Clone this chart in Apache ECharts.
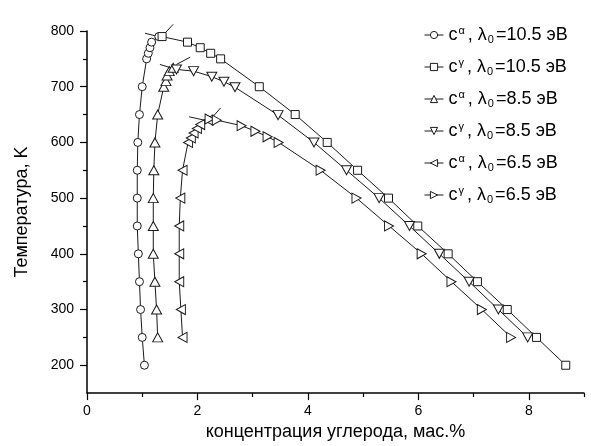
<!DOCTYPE html>
<html><head><meta charset="utf-8">
<script src="https://cdn.jsdelivr.net/npm/echarts@6/dist/echarts.min.js"></script>
<style>html,body{margin:0;padding:0;background:#fff}#c{width:591px;height:446px}</style>
</head><body><div id="c"></div>
<script>
// ---- data ----
const xTickLabels = [0, 2, 4, 6, 8];
const xMinorTicks = [1, 3, 5, 7, 9];
const yTickLabels = [200, 300, 400, 500, 600, 700, 800];
const yMinorTicks = [250, 350, 450, 550, 650, 750];

const seriesKeys = ['a105', 'g105', 'a85', 'g85', 'a65', 'g65'];
const legendTexts = [
  'c{sup|α}, λ{sub|0}=10.5 эВ',
  'c{sup|γ}, λ{sub|0}=10.5 эВ',
  'c{sup|α}, λ{sub|0}=8.5 эВ',
  'c{sup|γ}, λ{sub|0}=8.5 эВ',
  'c{sup|α}, λ{sub|0}=6.5 эВ',
  'c{sup|γ}, λ{sub|0}=6.5 эВ'
];

const alpha105 = [[1.04,200],[1.00,250],[0.97,300],[0.95,350],[0.93,400],[0.91,450],[0.91,500],[0.91,550],[0.92,600],[0.95,650],[1.00,700],[1.08,750],[1.11,760],[1.14,770],[1.17,780],[1.30,790]];
const gamma105 = [[1.36,790],[1.82,780],[2.05,770],[2.24,760],[2.42,750],[3.12,700],[3.77,650],[4.35,600],[4.90,550],[5.46,500],[5.99,450],[6.54,400],[7.07,350],[7.61,300],[8.14,250],[8.67,200]];
const alpha85 = [[1.28,250],[1.26,300],[1.23,350],[1.20,400],[1.20,450],[1.20,500],[1.21,550],[1.23,600],[1.28,650],[1.39,700],[1.43,710],[1.45,720],[1.49,728],[1.56,734]];
const gamma85 = [[1.62,731],[1.93,728],[2.26,718],[2.48,709],[2.68,699],[3.46,649],[4.11,600],[4.70,550],[5.29,500],[5.84,450],[6.38,400],[6.92,350],[7.45,300],[7.98,250]];
const alpha65 = [[1.73,250],[1.70,300],[1.67,350],[1.67,400],[1.67,450],[1.69,500],[1.73,550],[1.83,600],[1.88,608],[1.93,617],[1.99,625],[2.05,632],[2.20,640]];
const gamma65 = [[2.22,642],[2.35,640],[2.80,630],[3.05,620],[3.27,610],[3.47,600],[4.23,550],[4.88,500],[5.47,450],[6.06,400],[6.60,350],[7.15,300],[7.68,250]];

const peakTangents = [
  [[1.05,796],[1.29,790]], [[1.41,796],[1.56,812]],
  [[1.32,740],[1.62,731]], [[1.62,740],[1.87,753]],
  [[1.85,646],[2.26,637]], [[2.20,637],[2.42,662]]
];

// ---- styling ----
const FONT = 'Liberation Sans, Arial, sans-serif';
const INK = '#1a1a1a';
const symbols = {
  a105: {symbol: 'circle', size: 8},
  g105: {symbol: 'rect', size: 8},
  a85: {symbol: 'path://M5,0 L10,9 L0,9 Z', size: [10, 9]},
  g85: {symbol: 'path://M0,0 L10,0 L5,9 Z', size: [10, 9]},
  a65: {symbol: 'path://M9,0 L9,10 L0,5 Z', size: [9, 10]},
  g65: {symbol: 'path://M0,0 L9,5 L0,10 Z', size: [9, 10]}
};
const dataByKey = {a105: alpha105, g105: gamma105, a85: alpha85, g85: gamma85, a65: alpha65, g65: gamma65};

const series = [];
peakTangents.forEach(function (seg) {
  series.push({type: 'line', data: seg, symbol: 'none', silent: true, clip: false,
    lineStyle: {color: INK, width: 1}, z: 1});
});
seriesKeys.forEach(function (k) {
  series.push({
    name: k, type: 'line', data: dataByKey[k], color: INK,
    symbol: symbols[k].symbol, symbolSize: symbols[k].size, showSymbol: true, clip: false,
    lineStyle: {color: INK, width: 1},
    itemStyle: {color: '#fff', borderColor: INK, borderWidth: 1},
    z: 2
  });
});

const chart = echarts.init(document.getElementById('c'), null, {renderer: 'canvas'});
chart.setOption({
  animation: false,
  backgroundColor: '#fff',
  textStyle: {fontFamily: FONT},
  grid: {left: 87, right: 7, top: 31, bottom: 47, containLabel: false},
  legend: {
    orient: 'vertical', left: 419, top: 20, itemWidth: 19, itemHeight: 9, itemGap: 12,
    data: seriesKeys,
    itemStyle: {color: '#fff', borderColor: INK, borderWidth: 1},
    lineStyle: {color: INK, width: 1},
    formatter: function (n) { return legendTexts[seriesKeys.indexOf(n)]; },
    textStyle: {fontFamily: FONT, fontSize: 18, color: '#000', lineHeight: 20,
      rich: {
        sup: {fontFamily: FONT, fontSize: 11, color: '#000', verticalAlign: 'top', lineHeight: 12, padding: [0, 3, 6, 1]},
        sub: {fontFamily: FONT, fontSize: 11, color: '#000', verticalAlign: 'bottom', lineHeight: 12, padding: [7, 2, 0, 1]}
      }}
  },
  xAxis: [{
    type: 'value', min: 0, max: 9, interval: 1,
    name: 'концентрация углерода, мас.%', nameLocation: 'middle', nameGap: 27,
    nameTextStyle: {fontFamily: FONT, fontSize: 18, color: '#000'},
    axisLine: {show: true, onZero: false, lineStyle: {color: '#000', width: 1.5}},
    axisTick: {show: true, customValues: xTickLabels, length: 7, lineStyle: {color: '#000', width: 1.2}},
    axisLabel: {customValues: xTickLabels, fontFamily: FONT, fontSize: 14, color: '#000', margin: 11},
    splitLine: {show: false}
  }, {
    type: 'value', min: 0, max: 9, interval: 1, position: 'bottom',
    axisLine: {show: false},
    axisTick: {show: true, customValues: xMinorTicks, length: 4, lineStyle: {color: '#000', width: 1.2}},
    axisLabel: {show: false}, splitLine: {show: false}
  }],
  yAxis: [{
    type: 'value', min: 150, max: 800, interval: 50,
    name: 'Температура, K', nameLocation: 'middle', nameGap: 56, nameRotate: 90,
    nameTextStyle: {fontFamily: FONT, fontSize: 18, color: '#000'},
    axisLine: {show: true, onZero: false, lineStyle: {color: '#000', width: 1.5}},
    axisTick: {show: true, customValues: yTickLabels, length: 7, lineStyle: {color: '#000', width: 1.2}},
    axisLabel: {customValues: yTickLabels, fontFamily: FONT, fontSize: 14, color: '#000', margin: 13},
    splitLine: {show: false}
  }, {
    type: 'value', min: 150, max: 800, interval: 50, position: 'left',
    axisLine: {show: false},
    axisTick: {show: true, customValues: yMinorTicks, length: 4, lineStyle: {color: '#000', width: 1.2}},
    axisLabel: {show: false}, splitLine: {show: false}
  }],
  series: series
});
</script>
</body></html>
